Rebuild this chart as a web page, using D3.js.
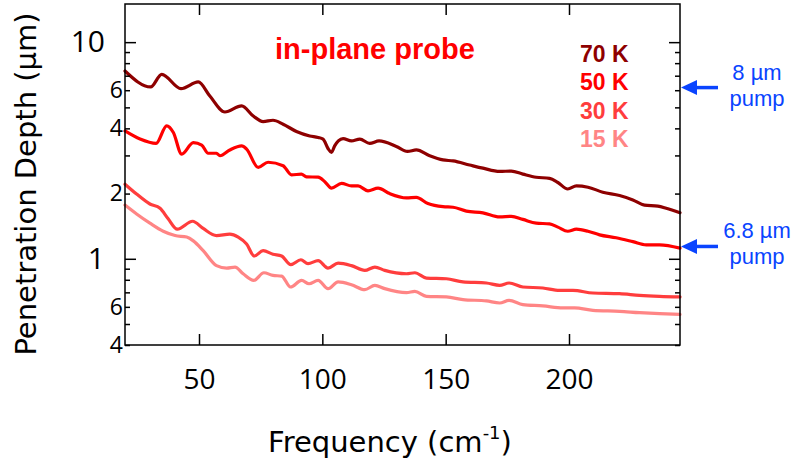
<!DOCTYPE html>
<html><head><meta charset="utf-8">
<script src="https://cdn.jsdelivr.net/npm/d3@7"></script>
<style>
html,body{margin:0;padding:0;background:#fff;}
svg{display:block;}
</style></head>
<body>
<svg id="chart" width="799" height="465"></svg>
<script>
// ---- data ----
const series = ["70 K", "50 K", "30 K", "15 K"];
const colors = ["#8e0000", "#ff0000", "#ff3d3d", "#ff8585"];

const f70 = [20, 30.4, 34.9, 42.7, 49.7, 54.4, 60.5, 67.3, 72, 76, 80, 84.1, 89.5, 94.9, 98.3, 100.3, 102.3, 103.7, 105, 106.5, 108.4, 111.8, 115.2, 119.2, 123, 130, 134.5, 138.1, 143.5, 148.9, 153, 159.7, 165.1, 171.9, 176.6, 181.3, 186.7, 192.1, 195.5, 199.5, 203, 207.7, 213.7, 220.5, 225.9, 230.6, 236, 239.4, 245];
const v70 = [7.36, 6.21, 7.10, 6.10, 6.55, 5.64, 4.76, 5.08, 4.56, 4.30, 4.36, 4.18, 3.87, 3.69, 3.63, 3.57, 3.23, 3.10, 3.32, 3.50, 3.59, 3.50, 3.57, 3.41, 3.50, 3.30, 3.13, 3.18, 2.99, 2.86, 2.83, 2.71, 2.62, 2.53, 2.54, 2.46, 2.38, 2.35, 2.25, 2.10, 2.17, 2.14, 2.03, 1.96, 1.87, 1.77, 1.75, 1.71, 1.63];

const f50 = [20, 26.1, 32.6, 36.9, 39.6, 43, 47.7, 51.1, 53.7, 57.1, 58.5, 62.5, 67.3, 69.3, 74, 78, 84.1, 87.5, 91.5, 93.6, 98.3, 101, 103.7, 107.8, 111.8, 114.5, 118.5, 122.6, 127.3, 134.1, 138.1, 142.8, 148.9, 153, 158.4, 165.1, 171.9, 176.6, 181.3, 186.7, 192.1, 195.5, 199.5, 203, 207.7, 212.4, 219.1, 225.9, 231.3, 236.7, 245];
const v50 = [3.89, 3.57, 3.41, 4.11, 3.83, 3.04, 3.44, 3.35, 3.07, 3.07, 2.99, 3.18, 3.32, 3.21, 2.64, 2.79, 2.69, 2.44, 2.46, 2.39, 2.38, 2.27, 2.12, 2.23, 2.17, 2.17, 2.06, 2.12, 2.00, 1.91, 1.92, 1.80, 1.74, 1.73, 1.66, 1.63, 1.56, 1.57, 1.52, 1.46, 1.45, 1.40, 1.34, 1.37, 1.34, 1.29, 1.25, 1.20, 1.16, 1.16, 1.12];

const f30 = [20, 24.7, 30.1, 34.2, 37.5, 41.2, 47.4, 51.7, 57.1, 62.5, 65.9, 69.3, 72.4, 76, 80, 83.5, 87.2, 91.3, 94.2, 98.3, 102.3, 106.4, 111.8, 117.2, 121.3, 125.3, 134.1, 137.5, 142.2, 150.3, 157, 166.5, 171.9, 175.7, 181.3, 189.4, 196.2, 201.6, 209.7, 220.5, 228.6, 236.7, 245];
const v30 = [2.21, 1.99, 1.79, 1.71, 1.53, 1.37, 1.49, 1.38, 1.28, 1.30, 1.26, 1.17, 1.03, 1.09, 1.05, 1.03, 0.94, 0.99, 0.95, 0.98, 0.906, 0.955, 0.93, 0.884, 0.916, 0.884, 0.853, 0.862, 0.815, 0.809, 0.782, 0.773, 0.754, 0.773, 0.741, 0.733, 0.715, 0.715, 0.695, 0.69, 0.678, 0.671, 0.667];

const f15 = [20, 24.7, 30.1, 35.5, 40.3, 45, 47.7, 51.7, 57.1, 61.2, 64.6, 67.9, 72.2, 76.3, 80, 83.5, 87.1, 91.6, 94.6, 98.3, 102.3, 106.4, 111.8, 117.2, 121.3, 125.3, 134.1, 137.5, 142.2, 150.3, 157, 166.5, 171.9, 175.7, 181.3, 189.4, 197.5, 202.3, 209.7, 220.5, 228.6, 236.7, 245];
const v15 = [1.77, 1.61, 1.46, 1.34, 1.28, 1.26, 1.21, 1.09, 0.93, 0.906, 0.916, 0.853, 0.795, 0.862, 0.838, 0.832, 0.741, 0.795, 0.767, 0.795, 0.728, 0.782, 0.759, 0.72, 0.754, 0.728, 0.698, 0.707, 0.671, 0.667, 0.648, 0.639, 0.625, 0.643, 0.614, 0.606, 0.593, 0.594, 0.578, 0.572, 0.564, 0.558, 0.554];

const xTicks = [50, 100, 150, 200];
const yMajorTicks = [1, 10];
const yMinorTicks = [0.4, 0.5, 0.6, 0.7, 0.8, 0.9, 2, 3, 4, 5, 6, 7, 8, 9];
const yMinorLabeled = [0.4, 0.6, 2, 4, 6];
const pumps = [{label1: "8 µm", label2: "pump", depth: 6.17}, {label1: "6.8 µm", label2: "pump", depth: 1.14}];

// ---- layout ----
const svg = d3.select("#chart");
const L = 125, R = 680, T = 4, B = 345;
const x = d3.scaleLinear().domain([20, 245]).range([L, R]);
const y = d3.scaleLog().domain([0.4, 15]).range([B, T]);

const FONT = "'Open Sans', 'Noto Sans', sans-serif";
const TFONT = "'DejaVu Sans', sans-serif";
const BOLD = "'Liberation Sans', Arial, sans-serif";

const data = [[f70, v70], [f50, v50], [f30, v30], [f15, v15]];

// lines (draw lightest first so darker on top)
const line = d3.line().x(d => x(d[0])).y(d => y(d[1])).curve(d3.curveMonotoneX);
const g = svg.append("g");
for (let i = data.length - 1; i >= 0; i--) {
  const pts = data[i][0].map((f, k) => [f, data[i][1][k]]);
  g.append("path").datum(pts).attr("d", line)
    .attr("fill", "none").attr("stroke", colors[i]).attr("stroke-width", 3.2)
    .attr("stroke-linejoin", "round").attr("stroke-linecap", "round");
}

function styleAxis(sel, fs) {
  sel.select(".domain").remove();
  sel.selectAll(".tick line").attr("stroke", "#000").attr("stroke-width", 1.5);
  sel.selectAll(".tick text").attr("fill", "#000").style("font-family", FONT).style("font-size", fs + "px");
}

// left axis minor
svg.append("g").attr("transform", `translate(${L},0)`)
  .call(d3.axisLeft(y).tickValues(yMinorTicks).tickSize(-5).tickSizeOuter(0).tickPadding(2)
    .tickFormat(d => yMinorLabeled.includes(d) ? (d < 1 ? String(Math.round(d * 10)) : String(d)) : ""))
  .call(s => styleAxis(s, 23));
// left axis major
svg.append("g").attr("transform", `translate(${L},0)`)
  .call(d3.axisLeft(y).tickValues(yMajorTicks).tickSize(-11).tickSizeOuter(0).tickPadding(20)
    .tickFormat(d3.format("d")))
  .call(s => styleAxis(s, 30));
// right axis
svg.append("g").attr("transform", `translate(${R},0)`)
  .call(d3.axisRight(y).tickValues(yMinorTicks).tickSize(-5).tickSizeOuter(0).tickFormat(""))
  .call(s => styleAxis(s, 10));
svg.append("g").attr("transform", `translate(${R},0)`)
  .call(d3.axisRight(y).tickValues(yMajorTicks).tickSize(-11).tickSizeOuter(0).tickFormat(""))
  .call(s => styleAxis(s, 10));
// bottom axis
svg.append("g").attr("transform", `translate(0,${B})`)
  .call(d3.axisBottom(x).tickValues(xTicks).tickSize(-11).tickSizeOuter(0).tickPadding(24).tickFormat(d3.format("d")))
  .call(s => styleAxis(s, 28));
// top axis
svg.append("g").attr("transform", `translate(0,${T})`)
  .call(d3.axisTop(x).tickValues(xTicks).tickSize(-11).tickSizeOuter(0).tickFormat(""))
  .call(s => styleAxis(s, 10));

// frame
svg.append("rect").attr("x", L).attr("y", T).attr("width", R - L).attr("height", B - T)
  .attr("fill", "none").attr("stroke", "#000").attr("stroke-width", 1.5);

// axis titles
const xt = svg.append("text").attr("x", 390).attr("y", 452).attr("text-anchor", "middle")
  .style("font-family", TFONT).style("font-size", "29px").attr("fill", "#000");
xt.append("tspan").text("Frequency (cm");
xt.append("tspan").attr("dy", -13).style("font-size", "18px").text("-1");
xt.append("tspan").attr("dy", 13).text(")");

svg.append("text").attr("transform", "translate(36,184) rotate(-90)").attr("text-anchor", "middle")
  .style("font-family", TFONT).style("font-size", "29px").attr("fill", "#000")
  .text("Penetration Depth (µm)");

// title
svg.append("text").attr("x", 275).attr("y", 59).style("font-family", BOLD).style("font-weight", "bold")
  .style("font-size", "29px").attr("fill", "#ff0000").text("in-plane probe");

// legend
svg.selectAll("text.leg").data(series).enter().append("text").attr("class", "leg")
  .attr("x", 580).attr("y", (d, i) => 61.7 + i * 28.5)
  .style("font-family", BOLD).style("font-weight", "bold").style("font-size", "23px")
  .attr("fill", (d, i) => colors[i]).text(d => d);

// pump arrows
const blue = "#0a44ff";
pumps.forEach(p => {
  const yy = y(p.depth);
  svg.append("line").attr("x1", R + 12).attr("x2", R + 38).attr("y1", yy).attr("y2", yy)
    .attr("stroke", blue).attr("stroke-width", 3.5);
  svg.append("path").attr("d", `M${R + 1},${yy} L${R + 17},${yy - 7.5} L${R + 17},${yy + 7.5} Z`).attr("fill", blue);
  svg.append("text").attr("x", 757).attr("y", yy - 8).attr("text-anchor", "middle")
    .style("font-family", BOLD).style("font-size", "22px").attr("fill", blue).text(p.label1);
  svg.append("text").attr("x", 757).attr("y", yy + 18).attr("text-anchor", "middle")
    .style("font-family", BOLD).style("font-size", "22px").attr("fill", blue).text(p.label2);
});
</script>
</body></html>
